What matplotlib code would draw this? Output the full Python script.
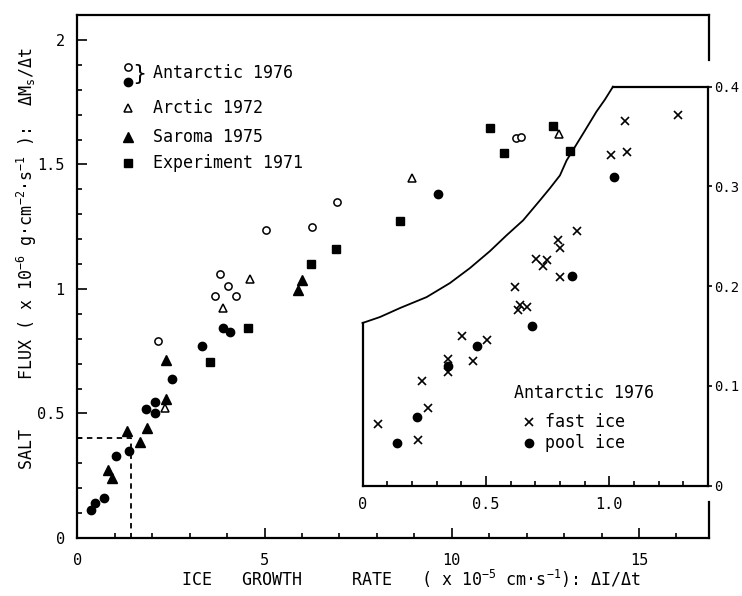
import matplotlib
matplotlib.use("Agg")
import matplotlib.pyplot as plt
from matplotlib.ticker import MultipleLocator, FixedLocator, FixedFormatter

plt.rcParams['font.family'] = ['DejaVu Sans Mono', 'DejaVu Sans']
plt.rcParams['mathtext.fontset'] = 'custom'
plt.rcParams['mathtext.rm'] = 'DejaVu Sans Mono'
plt.rcParams['mathtext.it'] = 'DejaVu Sans Mono'

# ---- main panel data: ice growth rate (1e-5 cm/s) vs salt flux (1e-6 g/cm2/s)
antarctic_open_x = [2.15, 3.69, 3.80, 4.02, 4.25, 5.05, 6.28, 6.93, 11.71, 11.85]
antarctic_open_y = [0.79, 0.97, 1.06, 1.01, 0.97, 1.235, 1.25, 1.35, 1.605, 1.61]

antarctic_filled_x = [0.37, 0.48, 0.70, 1.04, 1.37, 1.84, 2.07, 2.07, 2.52, 3.32, 3.89, 4.09, 9.62]
antarctic_filled_y = [0.113, 0.139, 0.162, 0.331, 0.351, 0.518, 0.503, 0.547, 0.637, 0.772, 0.845, 0.826, 1.38]

arctic_x = [2.35, 3.89, 4.61, 8.95, 12.87]
arctic_y = [0.523, 0.925, 1.041, 1.444, 1.621]

saroma_x = [0.81, 0.94, 1.34, 1.68, 1.87, 2.37, 2.37, 5.90, 6.01]
saroma_y = [0.272, 0.242, 0.431, 0.384, 0.440, 0.557, 0.714, 0.995, 1.036]

experiment_x = [3.54, 4.56, 6.25, 6.91, 8.61, 11.02, 11.40, 12.71, 13.16]
experiment_y = [0.706, 0.845, 1.102, 1.162, 1.274, 1.645, 1.545, 1.655, 1.555]

# ---- inset data: Antarctic 1976 at low growth rates
fast_ice_x = [0.064, 0.223, 0.264, 0.240, 0.348, 0.348, 0.404, 0.446, 0.503, 0.618,
              0.631, 0.640, 0.665, 0.702, 0.748, 0.730, 0.793, 0.800, 0.800, 0.870,
              1.005, 1.070, 1.063, 1.279]
fast_ice_y = [0.062, 0.046, 0.078, 0.105, 0.127, 0.114, 0.150, 0.125, 0.146, 0.199,
              0.176, 0.181, 0.179, 0.227, 0.226, 0.220, 0.246, 0.238, 0.209, 0.255,
              0.331, 0.335, 0.366, 0.372]

pool_ice_x = [0.138, 0.219, 0.348, 0.462, 0.685, 0.847, 1.019]
pool_ice_y = [0.043, 0.069, 0.120, 0.140, 0.160, 0.210, 0.309]

# upper-left boundary of the inset frame
frame_curve_x = [0.0, 0.071, 0.152, 0.260, 0.354, 0.435, 0.516, 0.584, 0.651, 0.719,
                 0.759, 0.800, 0.827, 0.894, 0.948, 0.982, 1.015]
frame_curve_y = [0.163, 0.169, 0.178, 0.189, 0.203, 0.218, 0.235, 0.251, 0.266, 0.286,
                 0.298, 0.311, 0.326, 0.353, 0.375, 0.387, 0.400]

# zoomed region marked on the main panel
zoom_box_x = 1.43
zoom_box_y = 0.4

main_xticks = [0, 5, 10, 15]
main_xticklabels = ["0", "5", "10", "15"]
main_yticks = [0, 0.5, 1.0, 1.5, 2.0]
main_yticklabels = ["0", "0.5", "1", "1.5", "2"]
inset_xticks = [0, 0.5, 1.0]
inset_xticklabels = ["0", "0.5", "1.0"]
inset_yticks = [0, 0.1, 0.2, 0.3, 0.4]
inset_yticklabels = ["0", "0.1", "0.2", "0.3", "0.4"]

W, H = 742, 596
fig = plt.figure(figsize=(W / 100, H / 100), dpi=100)

def fx(px):
    return px / W

def fy(py):
    return 1 - py / H

# main axes
L, R, B, T = 77.3, 709.0, 538.0, 15.0
ax = fig.add_axes([fx(L), fy(B), fx(R) - fx(L), fy(T) - fy(B)])
ax.set_xlim(0, 16.87)
ax.set_ylim(0, 2.1)

lw_spine = 1.6
for s in ['top', 'left', 'bottom']:
    ax.spines[s].set_linewidth(lw_spine)
ax.spines['right'].set_visible(False)
# right edge is interrupted by the inset
ax.axvline(16.87, ymin=(538 - 60) / 523, ymax=1, color='k', lw=lw_spine, clip_on=False)
ax.axvline(16.87, ymin=0, ymax=(538 - 502) / 523, color='k', lw=lw_spine, clip_on=False)

ax.xaxis.set_major_locator(FixedLocator(main_xticks))
ax.xaxis.set_major_formatter(FixedFormatter(main_xticklabels))
ax.xaxis.set_minor_locator(MultipleLocator(1))
ax.yaxis.set_major_locator(FixedLocator(main_yticks))
ax.yaxis.set_major_formatter(FixedFormatter(main_yticklabels))
ax.yaxis.set_minor_locator(MultipleLocator(0.1))
ax.tick_params(which='both', direction='in', top=False, right=False, width=1.2)
ax.tick_params(which='major', length=7)
ax.tick_params(which='minor', length=3.6)
ax.tick_params(axis='x', which='major', pad=11, labelsize=11)
ax.tick_params(axis='y', which='major', pad=9, labelsize=11)

ms_f = 6.0
ax.plot(antarctic_open_x, antarctic_open_y, 'o', ms=5.2, mfc='white', mec='k', mew=1.1, ls='none')
ax.plot(antarctic_filled_x, antarctic_filled_y, 'o', ms=ms_f, color='k', ls='none')
ax.plot(arctic_x, arctic_y, '^', ms=5.6, mfc='white', mec='k', mew=1.1, ls='none')
ax.plot(saroma_x, saroma_y, '^', ms=6.8, color='k', ls='none')
ax.plot(experiment_x, experiment_y, 's', ms=5.2, color='k', ls='none')

ax.plot([0, zoom_box_x, zoom_box_x], [zoom_box_y, zoom_box_y, 0], color='k',
        lw=1.3, ls=(0, (3, 2.5)))

# legend of the main panel
tr = ax.transAxes
def axf(px, py):
    return ((px - L) / (R - L), (B - py) / (B - T))

ax.plot(*axf(128.3, 66.7), 'o', ms=5.2, mfc='white', mec='k', mew=1.1, transform=tr, clip_on=False)
ax.plot(*axf(128.3, 81.7), 'o', ms=ms_f, color='k', transform=tr, clip_on=False)
ax.plot(*axf(128.3, 108.3), '^', ms=5.6, mfc='white', mec='k', mew=1.1, transform=tr, clip_on=False)
ax.plot(*axf(128.3, 136.7), '^', ms=6.8, color='k', transform=tr, clip_on=False)
ax.plot(*axf(128.3, 163.3), 's', ms=5.2, color='k', transform=tr, clip_on=False)
ax.text(*axf(139, 74), '}', transform=tr, ha='center', va='center', fontsize=16,
        family='DejaVu Sans')
leg_fs = 12
for label, py in [("Antarctic 1976", 73), ("Arctic 1972", 108),
                  ("Saroma 1975", 137), ("Experiment 1971", 163)]:
    ax.text(*axf(152.7, py), label, transform=tr, ha='left', va='center', fontsize=leg_fs)

# axis titles
fig.text(fx(181), fy(579), "ICE   GROWTH     RATE   ( x 10$^{-5}$ cm·s$^{-1}$): ΔI/Δt",
         ha='left', va='center', fontsize=12)
fig.text(fx(27), fy(470),
         "SALT     FLUX ( x 10$^{-6}$ g·cm$^{-2}$·s$^{-1}$ ):  ΔM$_{s}$/Δt",
         ha='center', va='bottom', rotation=90, fontsize=12)

# inset axes
iL, iR, iB, iT = 362.5, 708.0, 485.5, 86.7
axi = fig.add_axes([fx(iL), fy(iB), fx(iR) - fx(iL), fy(iT) - fy(iB)])
axi.patch.set_alpha(0)
axi.set_xlim(0, 1.4)
axi.set_ylim(0, 0.4)
axi.spines['top'].set_visible(False)
axi.spines['left'].set_bounds(0, frame_curve_y[0])
for s in ['left', 'right', 'bottom']:
    axi.spines[s].set_linewidth(lw_spine)
axi.plot(frame_curve_x, frame_curve_y, color='k', lw=1.3, clip_on=False)
axi.plot([frame_curve_x[-1], 1.4], [0.4, 0.4], color='k', lw=lw_spine, clip_on=False)

axi.xaxis.set_major_locator(FixedLocator(inset_xticks))
axi.xaxis.set_major_formatter(FixedFormatter(inset_xticklabels))
axi.xaxis.set_minor_locator(MultipleLocator(0.1))
axi.yaxis.set_major_locator(FixedLocator(inset_yticks))
axi.yaxis.set_major_formatter(FixedFormatter(inset_yticklabels))
axi.yaxis.tick_right()
axi.tick_params(axis='x', which='both', direction='in', width=1.2, labelsize=11, pad=8)
axi.tick_params(axis='x', which='major', length=7)
axi.tick_params(axis='x', which='minor', length=3.6)
axi.tick_params(axis='y', which='major', direction='out', length=3, width=1.2,
                labelsize=10, pad=1.5)

axi.plot(fast_ice_x, fast_ice_y, 'x', ms=5.4, mew=1.2, color='k', ls='none', clip_on=False)
axi.plot(pool_ice_x, pool_ice_y, 'o', ms=ms_f, color='k', ls='none', clip_on=False)

# inset legend
axi.text(0.613, 0.0928, "Antarctic 1976", ha='left', va='center', fontsize=leg_fs)
axi.plot(0.675, 0.064, 'x', ms=5.4, mew=1.2, color='k')
axi.plot(0.675, 0.0423, 'o', ms=ms_f, color='k')
axi.text(0.739, 0.064, "fast ice", ha='left', va='center', fontsize=leg_fs)
axi.text(0.739, 0.0423, "pool ice", ha='left', va='center', fontsize=leg_fs)

fig.savefig("out.png", dpi=100)
